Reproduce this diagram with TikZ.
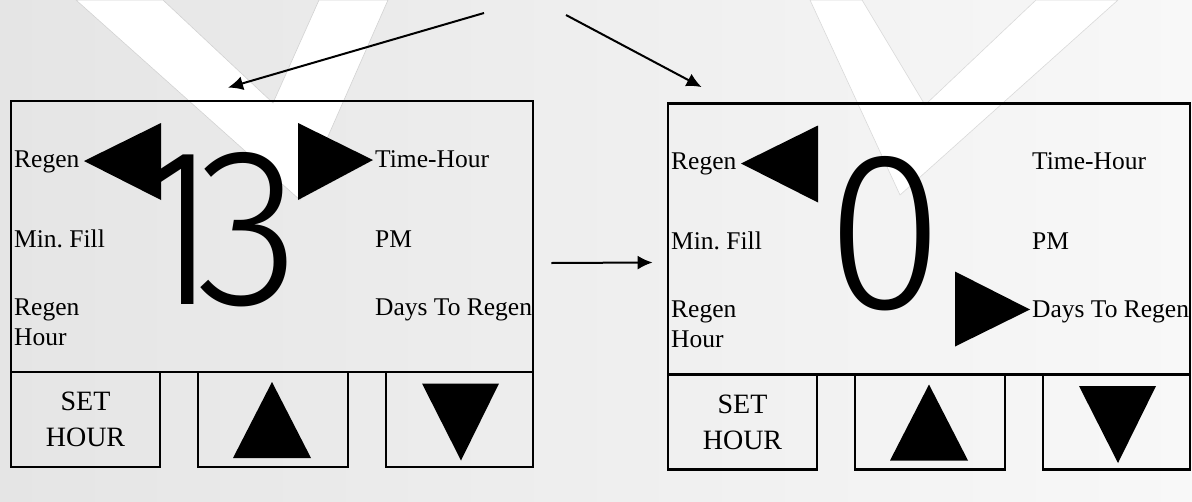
\documentclass[tikz,border=0pt]{standalone}
\usepackage{fontspec}
\setmainfont{Liberation Serif}
\newfontfamily\digitfont[FakeStretch=0.95,Numbers=Proportional]{Fira Sans Light}
\usetikzlibrary{arrows.meta}
\definecolor{bgleft}{RGB}{229,229,229}
\definecolor{bgright}{RGB}{248,248,248}
\frenchspacing

\begin{document}
\begin{tikzpicture}[%
    x=1pt, y=-1pt,
    screen/.style={
      rectangle,
      draw=black,
      line width=2.8pt,
      minimum width=522pt,
      minimum height=271pt,
      inner sep=0pt
    },
    button/.style={
      rectangle,
      draw=black,
      line width=2.8pt,
      minimum height=95pt,
      inner sep=0pt,
      align=center,
      font=\fontsize{28}{36}\selectfont
    },
    lcdtext/.style={
      anchor=base west,
      inner sep=0pt,
      font=\fontsize{25.5}{30}\selectfont
    },
    digit/.style={
      inner sep=0pt,
      font=\digitfont\fontsize{225}{225}\selectfont
    },
    line/.style={
      draw,
      line width=2pt,
      -{Latex[length=15pt,width=14pt]}
    }
  ]
    \useasboundingbox (0,0) rectangle (1192,501);
    \shade[left color=bgleft, right color=bgright] (0,0) rectangle (1192,501);

    % watermark
    \filldraw[white, draw=gray!35, line width=0.6pt] (76,0) -- (300,200) -- (388,0) -- (319,0) -- (273,103) -- (163,0) -- cycle;
    \filldraw[white, draw=gray!30, line width=0.6pt] (810,0) -- (900,195) -- (1118,0) -- (1036,0) -- (925,105) -- (862,0) -- cycle;

    % left display
    \node[screen] (lscreen) at (272,236.5) {};
    \node[button, minimum width=149pt] (lset) at (85.5,419.5) {SET\\HOUR};
    \node[button, minimum width=150pt] (lup) at (273,419.5) {};
    \node[button, minimum width=147pt] (ldown) at (459.5,419.5) {};
    \node[lcdtext] (lregen) at (14,167) {Regen};
    \node[lcdtext] (lfill) at (14,247) {Min. Fill};
    \node[lcdtext] (lrhour) at (14,315) {Regen};
    \node[lcdtext] (lhour) at (14,345) {Hour};
    \node[lcdtext] (ltime) at (375,167) {Time-Hour};
    \node[lcdtext] (lpm) at (375,247) {PM};
    \node[lcdtext] (ldays) at (375,315) {Days To Regen};
    \node[digit] (lnum) at (216,230) {1\kern-24pt3};
    \fill (84,161) -- (161,123) -- (161,200) -- cycle;
    \fill (373,160) -- (298,123) -- (298,200) -- cycle;
    \fill (272,382) -- (233,458) -- (311,458) -- cycle;
    \fill (422,383.5) -- (499,383.5) -- (461,460.5) -- cycle;

    % right display
    \begin{scope}[shift={(657,2.5)}]
      \node[screen] (rscreen) at (272,236.5) {};
      \node[button, minimum width=149pt] (rset) at (85.5,419.5) {SET\\HOUR};
      \node[button, minimum width=150pt] (rup) at (273,419.5) {};
      \node[button, minimum width=147pt] (rdown) at (459.5,419.5) {};
      \node[lcdtext] (rregen) at (14,167) {Regen};
      \node[lcdtext] (rfill) at (14,247) {Min. Fill};
      \node[lcdtext] (rrhour) at (14,315) {Regen};
      \node[lcdtext] (rhour) at (14,345) {Hour};
      \node[lcdtext] (rtime) at (375,167) {Time-Hour};
      \node[lcdtext] (rpm) at (375,247) {PM};
      \node[lcdtext] (rdays) at (375,315) {Days To Regen};
      \node[digit] (rnum) at (228,231) {0};
      \fill (84,161) -- (161,123) -- (161,200) -- cycle;
      \fill (373,307) -- (298,269) -- (298,344) -- cycle;
      \fill (272,382) -- (233,458) -- (311,458) -- cycle;
      \fill (422,383.5) -- (499,383.5) -- (461,460.5) -- cycle;
    \end{scope}

    % arrows
    \coordinate (lsrc) at (484,13);
    \coordinate (rsrc) at (566,15);
    \draw[line] (lsrc) -- ([xshift=-44pt,yshift=12pt]lscreen.north);
    \draw[line] (rsrc) -- ([xshift=35pt,yshift=15pt]rscreen.north west);
    \draw[line] ([xshift=17pt,yshift=-26.5pt]lscreen.east) -- ([xshift=-14pt,yshift=-23.5pt]rscreen.west);
  \end{tikzpicture}
\end{document}
